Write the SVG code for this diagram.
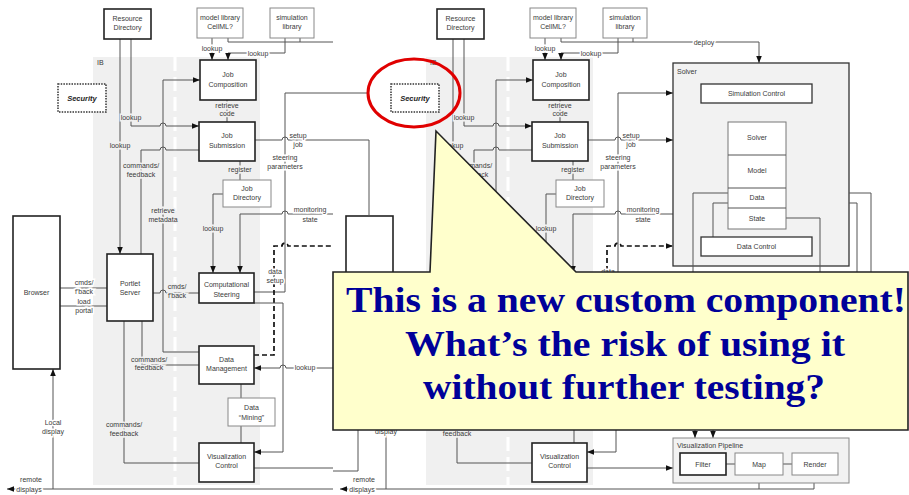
<svg xmlns="http://www.w3.org/2000/svg" xmlns:xlink="http://www.w3.org/1999/xlink" width="909" height="495" viewBox="0 0 909 495">
<style>
.bb{fill:#fff;stroke:#222;stroke-width:1.6}
.bt{fill:#fff;stroke:#888;stroke-width:1}
.ln{fill:none;stroke:#555;stroke-width:1}
.dash{fill:none;stroke:#111;stroke-width:1.7;stroke-dasharray:5 3}
.t{font-family:"Liberation Sans",Arial,sans-serif;font-size:7px;fill:#3a3a3a;text-anchor:middle}
.ts{font-family:"Liberation Sans",Arial,sans-serif;font-size:7px;fill:#3a3a3a;text-anchor:start}
.lw{paint-order:stroke;stroke:#fff;stroke-width:3px}
.lg{paint-order:stroke;stroke:#f0f0f0;stroke-width:3px}
.big{font-family:"Liberation Serif","Times New Roman",serif;font-weight:bold;font-size:36px;fill:#000099;text-anchor:middle}
</style>
<defs>
<marker id="ah" viewBox="0 0 10 10" refX="10" refY="5" markerWidth="7" markerHeight="7" orient="auto" markerUnits="userSpaceOnUse"><path d="M0,1 L10,5 L0,9 Z" fill="#111"/></marker>
<clipPath id="clipL"><rect x="0" y="0" width="333" height="495"/></clipPath>
</defs>
<rect width="909" height="495" fill="#fff"/>
<g id="page" opacity="0.999">
<g id="left-copy" clip-path="url(#clipL)">
<g id="diagram">
 <g id="ib-panel">
  <rect x="93" y="57" width="167" height="428" fill="#f0f0f0"/>
  <line x1="175" y1="57" x2="175" y2="485" stroke="#fff" stroke-width="3" stroke-dasharray="14 6"/>
  <text class="ts" x="97" y="65">IB</text>
 </g>
 <g id="connectors">
  <path class="ln" d="M212,38 V60" marker-end="url(#ah)"/>
  <path class="ln" d="M285,38 V53 H228 V60" marker-end="url(#ah)"/>
  <path class="ln" d="M228,38 V42 H340"/>
  <path class="ln" d="M300,38 V42"/>
  <path class="ln" d="M131,39 V126 H160 A3,3 0 0 1 166,126 H199" marker-end="url(#ah)"/>
  <path class="ln" d="M120,39 V254" marker-end="url(#ah)"/>
  <path class="ln" d="M199,352 H163 V80 H200" marker-end="url(#ah)"/>
  <path class="ln" d="M199,150 H166 A3,3 0 0 0 160,150 H141 V254"/>
  <path class="ln" d="M60,288 H107"/>
  <path class="ln" d="M60,306 H107"/>
  <path class="ln" d="M153,293 H160 A3,3 0 0 1 166,293 H199"/>
  <path class="ln" d="M227,100 V122"/>
  <path class="ln" d="M240,161 V180"/>
  <path class="ln" d="M223,194 H213 V273" marker-end="url(#ah)"/>
  <path class="ln" d="M340,214 H288 A3,3 0 0 0 282,214 H240 V273" marker-end="url(#ah)"/>
  <path class="ln" d="M255,140 H282 A3,3 0 0 1 288,140 H340" marker-end="url(#ah)"/>
  <path class="ln" d="M254,292 H285 V93 H340" marker-end="url(#ah)"/>
  <path class="dash" d="M254,355 H274 V246 H282 A3,3 0 0 1 288,246 H340" marker-end="url(#ah)"/>
  <path class="ln" d="M254,303 H283 V452 H254" marker-end="url(#ah)"/>
  <path class="ln" d="M340,368 H286 A3,3 0 0 0 280,368 H254" marker-end="url(#ah)"/>
  <path class="ln" d="M241,384 V443"/>
  <path class="ln" d="M142,321 V365 H199"/>
  <path class="ln" d="M124,321 V463 H199"/>
  <path class="ln" d="M254,468 H340" marker-end="url(#ah)"/>
  <path class="ln" d="M53,489 V369" marker-end="url(#ah)"/>
  <path class="ln" d="M340,489 H7" marker-end="url(#ah)"/>
  <text class="t lw" x="212" y="51">lookup</text>
  <text class="t lw" x="258" y="55.5">lookup</text>
  <text class="t lg" x="131" y="120">lookup</text>
  <text class="t lg" x="120" y="148">lookup</text>
  <text class="t lg" x="227" y="108">retrieve</text>
  <text class="t lg" x="227" y="116">code</text>
  <text class="t lg" x="163" y="213">retrieve</text>
  <text class="t lg" x="163" y="222">metadata</text>
  <text class="t lg" x="141" y="168">commands/</text>
  <text class="t lg" x="141" y="177">feedback</text>
  <text class="t lw" x="84" y="285">cmds/</text>
  <text class="t lw" x="84" y="294">f'back</text>
  <text class="t lw" x="84" y="304">load</text>
  <text class="t lw" x="84" y="313">portal</text>
  <text class="t lg" x="177" y="289">cmds/</text>
  <text class="t lg" x="177" y="298">f'back</text>
  <text class="t lg" x="240" y="172">register</text>
  <text class="t lg" x="213" y="231">lookup</text>
  <text class="t lw" x="310" y="212">monitoring</text>
  <text class="t lw" x="310" y="222">state</text>
  <text class="t lw" x="298" y="138">setup</text>
  <text class="t lw" x="298" y="147">job</text>
  <text class="t lw" x="285" y="160">steering</text>
  <text class="t lw" x="285" y="169">parameters</text>
  <text class="t lw" x="275" y="274">data</text>
  <text class="t lw" x="275" y="283">setup</text>
  <text class="t lw" x="305" y="370">lookup</text>
  <text class="t lg" x="149" y="362">commands/</text>
  <text class="t lg" x="149" y="370">feedback</text>
  <text class="t lg" x="124" y="427">commands/</text>
  <text class="t lg" x="124" y="436">feedback</text>
  <text class="t lw" x="53" y="425">Local</text>
  <text class="t lw" x="53" y="434">display</text>
  <text class="t lw" x="31" y="482">remote</text>
  <text class="t lw" x="29" y="491.5">displays</text>
 </g>
 <g id="resource-directory"><rect class="bb" x="104" y="9" width="47" height="30"/><text class="t" x="127.5" y="21">Resource</text><text class="t" x="127.5" y="30">Directory</text></g>
 <g id="model-library"><rect class="bt" x="197" y="8" width="46" height="30"/><text class="t" x="220" y="20">model library</text><text class="t" x="220" y="29">CellML?</text></g>
 <g id="simulation-library"><rect class="bt" x="270" y="8" width="44" height="30"/><text class="t" x="292" y="20">simulation</text><text class="t" x="292" y="29">library</text></g>
 <g id="security"><rect x="58" y="84" width="48" height="28" fill="#fff" stroke="#333" stroke-width="1.5" stroke-dasharray="1.5 1.2"/><text class="t" x="82" y="100.5" style="font-weight:bold;font-style:italic;font-size:7.5px;fill:#222">Security</text></g>
 <g id="job-composition"><rect class="bb" x="200" y="60" width="56" height="40"/><text class="t" x="228" y="77">Job</text><text class="t" x="228" y="87">Composition</text></g>
 <g id="job-submission"><rect class="bb" x="199" y="122" width="56" height="39"/><text class="t" x="227" y="138">Job</text><text class="t" x="227" y="148">Submission</text></g>
 <g id="job-directory"><rect class="bt" x="223" y="180" width="48" height="27"/><text class="t" x="247" y="191">Job</text><text class="t" x="247" y="200">Directory</text></g>
 <g id="browser"><rect class="bb" x="13" y="216" width="47" height="153"/><text class="t" x="36.5" y="295">Browser</text></g>
 <g id="portlet-server"><rect class="bb" x="107" y="254" width="46" height="67"/><text class="t" x="130" y="286">Portlet</text><text class="t" x="130" y="295">Server</text></g>
 <g id="computational-steering"><rect class="bb" x="199" y="273" width="55" height="30"/><text class="t" x="226.5" y="287">Computational</text><text class="t" x="226.5" y="297">Steering</text></g>
 <g id="data-management"><rect class="bb" x="199" y="346" width="55" height="38"/><text class="t" x="226.5" y="362">Data</text><text class="t" x="226.5" y="371">Management</text></g>
 <g id="data-mining"><rect class="bt" x="228" y="398" width="47" height="28"/><text class="t" x="251.5" y="410">Data</text><text class="t" x="251.5" y="420">“Mining”</text></g>
 <g id="visualization-control"><rect class="bb" x="199" y="443" width="55" height="39"/><text class="t" x="226.5" y="459">Visualization</text><text class="t" x="226.5" y="468">Control</text></g>
</g>
</g>
<rect x="333" y="0" width="576" height="495" fill="#fff"/>
<g id="right-copy"><use href="#diagram" xlink:href="#diagram" x="333" y="0"/></g>
<g id="connectors-right">
 <path class="ln" d="M673,42 H759 V63" marker-end="url(#ah)"/>
 <text class="t lw" x="704" y="44.5">deploy</text>
 <path class="ln" d="M695,430 V438" marker-end="url(#ah)"/>
 <path class="ln" d="M713,430 V438" marker-end="url(#ah)"/>
 <path class="ln" d="M673,489 H814 V483"/>
 <path class="ln" d="M759,489 V483"/>
 <path class="ln" d="M333,93 H368"/>
 <path class="ln" d="M333,140 H369 V216"/>
 <path class="ln" d="M333,471 H358 V430"/>
</g>
<g id="solver">
 <rect x="673" y="63" width="176" height="203" fill="#f2f2f2" stroke="#333" stroke-width="1.3"/>
 <text class="ts" x="677" y="74">Solver</text>
 <path class="ln" d="M728,193 H693 V272"/>
 <path class="ln" d="M728,203 H713 V237"/>
 <path class="ln" d="M786,218 H820 V272"/>
 <path class="ln" d="M849,193 H871 V272" stroke-width="1.5"/>
 <path class="ln" d="M849,203 H857 V272" stroke-width="1.5"/>
 <g id="simulation-control"><rect x="701" y="84" width="111" height="19" fill="#fff" stroke="#333" stroke-width="1.3"/><text class="t" x="756.5" y="96">Simulation Control</text></g>
 <g id="solver-stack">
  <rect x="728" y="122" width="58" height="107" fill="#fff" stroke="#777"/>
  <path class="ln" stroke="#777" d="M728,155 H786 M728,188 H786 M728,208 H786"/>
  <text class="t" x="757" y="140">Solver</text>
  <text class="t" x="757" y="173">Model</text>
  <text class="t" x="757" y="200">Data</text>
  <text class="t" x="757" y="220.5">State</text>
 </g>
 <g id="data-control"><rect x="701" y="237" width="111" height="19" fill="#fff" stroke="#333" stroke-width="1.3"/><text class="t" x="756.5" y="249">Data Control</text></g>
</g>
<g id="visualization-pipeline">
 <rect x="673" y="438" width="176" height="45" fill="#f2f2f2" stroke="#888"/>
 <text class="ts" x="677" y="448">Visualization Pipeline</text>
 <path class="ln" d="M726,464 H735 M783,464 H792"/>
 <g id="filter"><rect class="bb" x="680" y="453" width="46" height="22"/><text class="t" x="703" y="466.5">Filter</text></g>
 <g id="map"><rect class="bt" x="735" y="453" width="48" height="22"/><text class="t" x="759" y="466.5">Map</text></g>
 <g id="render"><rect class="bt" x="792" y="453" width="46" height="22"/><text class="t" x="815" y="466.5">Render</text></g>
</g>
<g id="callout">
 <path d="M333,272 H430 L436,131 L576,272 H908 V430 H333 Z" fill="#ffffcc" stroke="#222" stroke-width="1.6"/>
 <text class="big" x="626" y="312" textLength="560" lengthAdjust="spacingAndGlyphs">This is a new custom component!</text>
 <text class="big" x="625" y="356" textLength="440" lengthAdjust="spacingAndGlyphs">What’s the risk of using it</text>
 <text class="big" x="624" y="399" textLength="402" lengthAdjust="spacingAndGlyphs">without further testing?</text>
</g>
<ellipse id="highlight" cx="414" cy="93" rx="46" ry="34" fill="none" stroke="#e00000" stroke-width="3"/>
</g>
</svg>
